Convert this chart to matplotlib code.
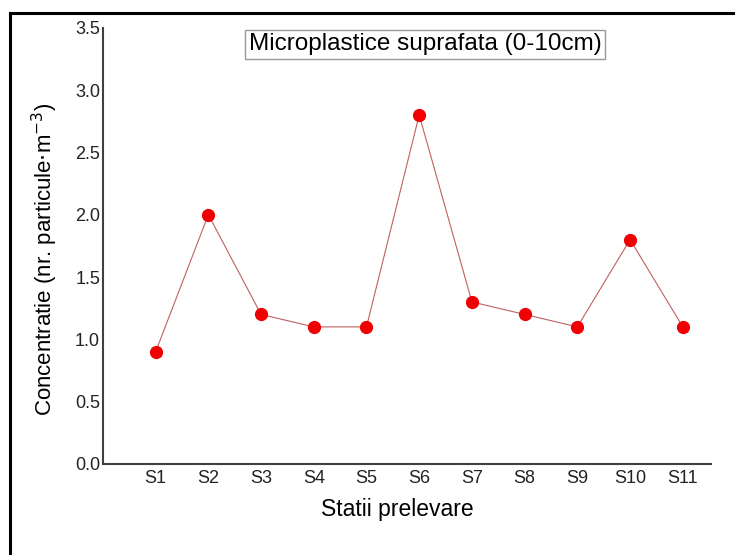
import matplotlib.pyplot as plt
from matplotlib.lines import Line2D

plt.rcParams['font.family'] = ['Liberation Sans', 'DejaVu Sans']

stations = ['S1', 'S2', 'S3', 'S4', 'S5', 'S6', 'S7', 'S8', 'S9', 'S10', 'S11']
concentration = [0.9, 2.0, 1.2, 1.1, 1.1, 2.8, 1.3, 1.2, 1.1, 1.8, 1.1]
y_ticks = [0.0, 0.5, 1.0, 1.5, 2.0, 2.5, 3.0, 3.5]

fig = plt.figure(figsize=(7.35, 5.55), dpi=100)
ax = fig.add_axes([0.140, 0.164, 0.827, 0.786])

x_pos = list(range(1, len(stations) + 1))
ax.plot(x_pos, concentration, color='#c06060', linewidth=0.8,
        marker='o', markersize=8.5, markerfacecolor='#f00000',
        markeredgecolor='#f00000')

ax.set_xlim(0, 11.53)
ax.set_ylim(0, 3.5)
ax.set_xticks(x_pos)
ax.set_xticklabels(stations)
ax.set_yticks(y_ticks)
ax.set_yticklabels(['{:.1f}'.format(v) for v in y_ticks])
ax.tick_params(length=0, labelsize=13, colors='#222222')
ax.tick_params(axis='y', pad=2)
ax.tick_params(axis='x', pad=4)

for side in ['top', 'right']:
    ax.spines[side].set_visible(False)
for side in ['left', 'bottom']:
    ax.spines[side].set_color('#404040')
    ax.spines[side].set_linewidth(1.5)

ax.set_xlabel('Statii prelevare', fontsize=16.5)
ax.xaxis.set_label_coords(0.485, -0.078)
ax.set_ylabel(r'Concentratie (nr. particule$\cdot$m$^{-3}$)', fontsize=16)
ax.yaxis.set_label_coords(-0.07, 0.47)

ax.text(0.53, 0.962, 'Microplastice suprafata (0-10cm)', transform=ax.transAxes,
        ha='center', va='center', fontsize=17.5,
        bbox=dict(boxstyle='square,pad=0.15', facecolor='white', edgecolor='#999999', linewidth=1))

# frame around the picture (only left and top edges visible)
fig.add_artist(Line2D([10 / 735, 10 / 735], [0, 1 - 13 / 555], color='black', linewidth=2.2))
fig.add_artist(Line2D([10 / 735, 1], [1 - 13 / 555, 1 - 13 / 555], color='black', linewidth=2.2))

fig.savefig('out.png', dpi=100)
